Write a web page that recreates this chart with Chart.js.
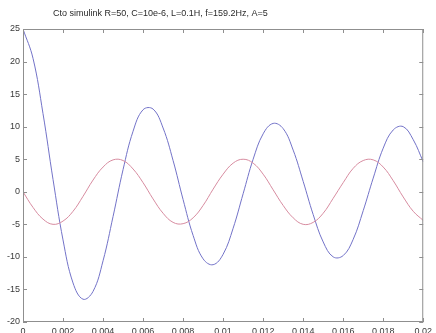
<!DOCTYPE html>
<html>
<head>
<meta charset="utf-8">
<script src="https://cdn.jsdelivr.net/npm/chart.js@4"></script>
<style>
  html, body { margin: 0; padding: 0; background: #fff; }
  #wrap { width: 436px; height: 333px; }
</style>
</head>
<body>
<div id="wrap"><canvas id="rlcChart" width="436" height="333"></canvas></div>
<script>
// chart title
const titleText = 'Cto simulink R=50, C=10e-6, L=0.1H, f=159.2Hz, A=5'

// time samples (s)
const times = [0, 0.0005, 0.001, 0.0015, 0.002, 0.0025, 0.003, 0.0035, 0.004, 0.0045,
  0.005, 0.0055, 0.006, 0.0065, 0.007, 0.0075, 0.008, 0.0085, 0.009, 0.0095,
  0.01, 0.0105, 0.011, 0.0115, 0.012, 0.0125, 0.013, 0.0135, 0.014, 0.0145,
  0.015, 0.0155, 0.016, 0.0165, 0.017, 0.0175, 0.018, 0.0185, 0.019, 0.0195, 0.02]

// blue trace (circuit response)
const blueValues = [25.0, 20.5, 12.0, 1.9, -7.4, -14.0, -16.5, -15.3, -10.6, -3.8,
  3.4, 9.3, 12.6, 12.7, 9.8, 4.8, -1.2, -6.7, -10.3, -11.2,
  -9.6, -5.6, -0.3, 5.0, 8.9, 10.5, 9.7, 6.4, 1.6, -3.5,
  -7.7, -10.0, -9.8, -7.3, -2.9, 2.1, 6.7, 9.5, 10.0, 8.0, 4.6]

// red trace (source, A=5)
const redValues = [0, -2.4, -4.2, -5.0, -4.5, -3.0, -0.7, 1.8, 3.8, 4.9,
  4.8, 3.5, 1.4, -1.1, -3.3, -4.7, -4.9, -4.0, -2.1, 0.4,
  2.7, 4.4, 5.0, 4.4, 2.7, 0.3, -2.1, -4.0, -5.0, -4.7,
  -3.3, -1.0, 1.4, 3.6, 4.8, 4.9, 3.8, 1.7, -0.8, -3.0, -4.4]

// tick values and labels
const xTicks = [0, 0.002, 0.004, 0.006, 0.008, 0.01, 0.012, 0.014, 0.016, 0.018, 0.02]
const xTickLabels = ['0', '0.002', '0.004', '0.006', '0.008', '0.01', '0.012', '0.014', '0.016', '0.018', '0.02']
const yTicks = [-20, -15, -10, -5, 0, 5, 10, 15, 20, 25]
const yTickLabels = ['-20', '-15', '-10', '-5', '0', '5', '10', '15', '20', '25']

const axisColor = '#8f8f8f'
const textColor = '#3a3a3a'
const fontFamily = 'Arial, "Liberation Sans", sans-serif'

function toPoints(values) {
  return values.map((v, i) => ({ x: times[i], y: v }))
}

// box around the plot + inward ticks on all four sides (matlab style)
const boxPlugin = {
  id: 'boxPlugin',
  afterDraw(chart) {
    const ctx = chart.ctx
    const a = chart.chartArea
    const xs = chart.scales.x
    const ys = chart.scales.y
    const tl = 4
    ctx.save()
    ctx.strokeStyle = axisColor
    ctx.lineWidth = 1
    ctx.strokeRect(a.left + 0.5, a.top + 0.5, a.right - a.left - 1, a.bottom - a.top - 1)
    ctx.beginPath()
    xTicks.forEach(t => {
      const px = Math.round(xs.getPixelForValue(t)) + 0.5
      ctx.moveTo(px, a.bottom); ctx.lineTo(px, a.bottom - tl)
      ctx.moveTo(px, a.top); ctx.lineTo(px, a.top + tl)
    })
    yTicks.forEach(t => {
      const py = Math.round(ys.getPixelForValue(t)) + 0.5
      ctx.moveTo(a.left, py); ctx.lineTo(a.left + tl, py)
      ctx.moveTo(a.right, py); ctx.lineTo(a.right - tl, py)
    })
    ctx.stroke()
    // title
    ctx.fillStyle = '#2a2a2a'
    ctx.font = '9px ' + fontFamily
    ctx.textBaseline = 'middle'
    ctx.textAlign = 'left'
    ctx.fillText(titleText, 53, 14)
    ctx.restore()
  }
}

const data = {
  datasets: [
    {
      label: 'red',
      data: toPoints(redValues),
      borderColor: 'rgba(215, 140, 160, 1)',
      borderWidth: 1,
      pointRadius: 0,
      tension: 0.4,
      fill: false
    },
    {
      label: 'blue',
      data: toPoints(blueValues),
      borderColor: 'rgba(115, 115, 200, 1)',
      borderWidth: 1,
      pointRadius: 0,
      tension: 0.4,
      fill: false
    }
  ]
}

const config = {
  type: 'line',
  data,
  options: {
    responsive: false,
    animation: false,
    layout: { padding: { left: 0, right: 10, top: 29, bottom: 0 } },
    plugins: {
      legend: { display: false },
      title: { display: false },
      tooltip: { enabled: false }
    },
    scales: {
      x: {
        type: 'linear',
        min: 0,
        max: 0.02,
        afterBuildTicks(scale) { scale.ticks = xTicks.map(v => ({ value: v })) },
        afterFit(scale) { scale.height = 11 },
        grid: { display: false, drawTicks: false },
        border: { display: false },
        ticks: {
          padding: 4,
          maxRotation: 0,
          autoSkip: false,
          color: textColor,
          font: { size: 9, family: fontFamily },
          callback: (v) => xTickLabels[xTicks.indexOf(v)]
        }
      },
      y: {
        min: -20,
        max: 25,
        afterBuildTicks(scale) { scale.ticks = yTicks.map(v => ({ value: v })) },
        afterFit(scale) { scale.width = 23 },
        grid: { display: false, drawTicks: false },
        border: { display: false },
        ticks: {
          padding: 3,
          autoSkip: false,
          color: textColor,
          font: { size: 9, family: fontFamily },
          callback: (v) => yTickLabels[yTicks.indexOf(v)]
        }
      }
    }
  },
  plugins: [boxPlugin]
}

const rlcChart = new Chart(document.getElementById('rlcChart'), config)
</script>
</body>
</html>
